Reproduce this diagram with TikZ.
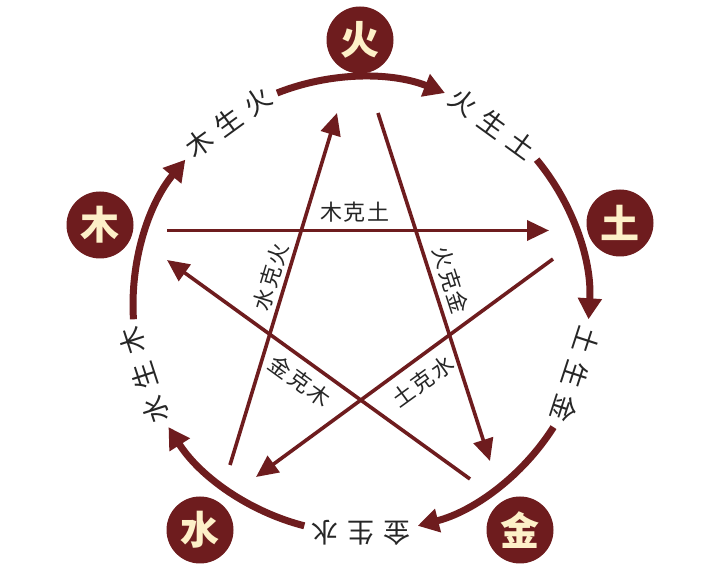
\documentclass[tikz,border=0pt]{standalone}
\usepackage{fontspec}
\newfontfamily\cjk{Noto Sans CJK SC}
\usetikzlibrary{arrows.meta}
\definecolor{wred}{HTML}{6E1C1E}
\definecolor{cream}{HTML}{FDF0C8}
\definecolor{ink}{HTML}{262626}
\newcommand\cgap{\hspace{9pt}}
\newcommand\kgap{\hspace{2pt}}
\begin{document}
\begin{tikzpicture}[x=1pt,y=1pt,
  elem/.style={circle,fill=wred,minimum size=67pt,inner sep=0pt,text=cream,
    font=\cjk\bfseries\fontsize{39}{39}\selectfont},
  cyc/.style={draw=wred,line width=7pt,-{Triangle[length=21pt,width=23pt]}},
  ke/.style={draw=wred,line width=3.6pt,-{Triangle[length=22pt,width=20pt]}},
  cyclabel/.style={text=ink,inner sep=0pt,font=\cjk\fontsize{27}{27}\selectfont},
  kelabel/.style={text=ink,inner sep=0pt,font=\cjk\fontsize{22}{22}\selectfont}]
\fill[white] (0,0) rectangle (720,569);
\useasboundingbox (0,0) rectangle (720,569);
% element nodes
\node[elem] (huo) at (360,529) {火};
\node[elem] (tu) at (620,346) {土};
\node[elem] (jin) at (520,39) {金};
\node[elem] (shui) at (200,39) {水};
\node[elem] (mu) at (100,344) {木};
% generating cycle
\begin{scope}[shift={(361,264)}]
\foreach \a in {90,18,-54,-126,-198}
  \draw[cyc] (\a+21.6:228) arc[start angle=\a+21.6, end angle=\a-21.6, radius=228pt];
\node[cyclabel,rotate=36] (l1) at (126:226) {木\cgap 生\cgap 火};
\node[cyclabel,rotate=-36] (l2) at (54:224) {火\cgap 生\cgap 土};
\node[cyclabel,rotate=-108] (l3) at (-18:226) {土\cgap 生\cgap 金};
\node[cyclabel,rotate=180] (l4) at (-90:228) {金\cgap 生\cgap 水};
\node[cyclabel,rotate=108] (l5) at (198:228) {水\cgap 生\cgap 木};
\end{scope}
% controlling star
\coordinate (muS) at (167,338.5);
\coordinate (tuE) at (549,338.5);
\coordinate (huoS) at (378,456);
\coordinate (jinE) at (490,108);
\coordinate (tuS) at (553,310);
\coordinate (shuiE) at (256,92);
\coordinate (jinS) at (470,90);
\coordinate (muE) at (167,309);
\coordinate (shuiS) at (230,104);
\coordinate (huoE) at (337,456);
\draw[ke] (muS) -- (tuE);
\draw[ke] (huoS) -- (jinE);
\draw[ke] (tuS) -- (shuiE);
\draw[ke] (jinS) -- (muE);
\draw[ke] (shuiS) -- (huoE);
\node[kelabel] (k1) at (355,357) {木\kgap 克\kgap 土};
\node[kelabel,rotate=-72] (k2) at (451,289) {火\kgap 克\kgap 金};
\node[kelabel,rotate=73] (k3) at (271,292) {水\kgap 克\kgap 火};
\node[kelabel,rotate=-36] (k4) at (300,188) {金\kgap 克\kgap 木};
\node[kelabel,rotate=36] (k5) at (423,188) {土\kgap 克\kgap 水};
\end{tikzpicture}
\end{document}
